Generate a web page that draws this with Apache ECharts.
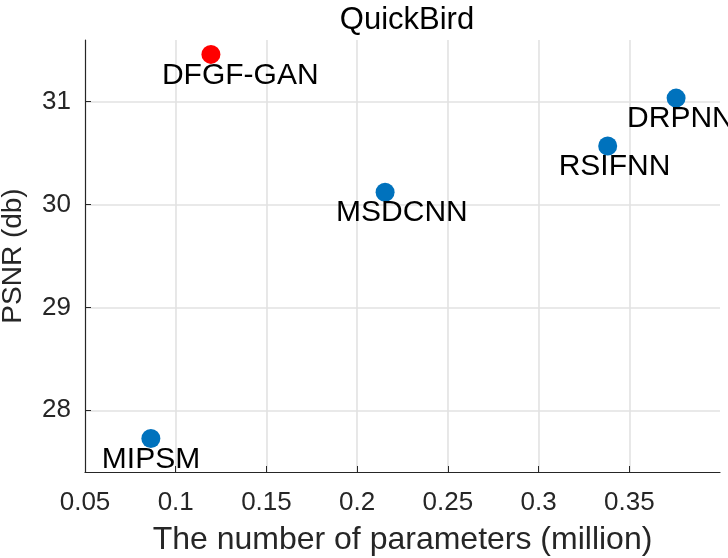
<!DOCTYPE html>
<head>
    <meta charset="utf-8"/>
    <style>
        html, body {
            height: 100%;
            margin: 0;
        }
        body {
            background-color: #fff;
        }
    </style>
    <script src="https://cdn.jsdelivr.net/npm/echarts@6/dist/echarts.min.js"></script>
</head>
<body>
<div id="main" style="height: 558px; width: 728px;"></div>
<script type="text/javascript">
 // 各方法：参数量(百万) 与 PSNR
 var methods = ['MIPSM', 'DFGF-GAN', 'MSDCNN', 'RSIFNN', 'DRPNN'];
 var params = [0.0863, 0.1194, 0.2154, 0.3381, 0.3758];
 var psnr = [27.725, 31.46, 30.12, 30.57, 31.035];
 var proposed = 'DFGF-GAN';
 var xTicks = [0.05, 0.1, 0.15, 0.2, 0.25, 0.3, 0.35];
 var yTicks = [28, 29, 30, 31];

 var axisColor = '#262626';
 var gridColor = '#e2e2e2';

 var points = methods.map(function (m, i) {
     return {
         name: m,
         value: [params[i], psnr[i]],
         itemStyle: {color: m === proposed ? '#ff0000' : '#0072bd', opacity: 1}
     };
 });

 var options = {
     animation: false,
     title: {
         text: 'QuickBird',
         left: 402,
         top: 0,
         textAlign: 'center',
         textStyle: {
             color: '#000',
             fontFamily: 'Liberation Sans',
             fontWeight: 'normal',
             fontSize: 31
         }
     },
     grid: {
         left: 85,
         right: 8,
         top: 40,
         bottom: 86,
         containLabel: false,
         outerBoundsMode: 'none'
     },
     xAxis: {
         type: 'value',
         min: xTicks[0],
         max: 0.4,
         interval: 0.05,
         name: 'The number of parameters (million)',
         nameLocation: 'middle',
         nameGap: 52,
         nameTextStyle: {
             color: '#262626',
             fontFamily: 'Liberation Sans',
             fontSize: 32
         },
         axisLine: {lineStyle: {color: axisColor, width: 1.2}},
         axisTick: {inside: true, length: 6, lineStyle: {color: axisColor}},
         axisLabel: {
             showMaxLabel: false,
             margin: 18,
             color: '#262626',
             fontFamily: 'Liberation Sans',
             fontSize: 26,
             formatter: function (v) { return xTicks.indexOf(+v.toFixed(2)) >= 0 ? String(+v.toFixed(2)) : ''; }
         },
         splitLine: {
             show: true,
             showMinLine: false,
             showMaxLine: false,
             lineStyle: {color: gridColor, width: 1.6}
         }
     },
     yAxis: {
         type: 'value',
         min: 27.4,
         max: 31.6,
         splitNumber: 4,
         name: 'PSNR (db)',
         nameLocation: 'middle',
         nameGap: 58,
         nameTextStyle: {
             color: '#262626',
             fontFamily: 'Liberation Sans',
             fontSize: 28
         },
         axisLine: {show: true, lineStyle: {color: axisColor, width: 1.2}},
         axisTick: {show: true, inside: true, length: 6, lineStyle: {color: axisColor}},
         axisLabel: {
             showMinLabel: false,
             showMaxLabel: false,
             margin: 14,
             color: '#262626',
             fontFamily: 'Liberation Sans',
             fontSize: 26,
             formatter: function (v) { return yTicks.indexOf(Math.round(v * 10) / 10) >= 0 ? String(v) : ''; }
         },
         splitLine: {
             show: true,
             showMinLine: false,
             showMaxLine: false,
             lineStyle: {color: gridColor, width: 1.6}
         }
     },
     series: [{
         type: 'scatter',
         symbol: 'circle',
         symbolSize: 19,
         data: points,
         label: {
             show: true,
             position: 'inside',
             align: 'left',
             verticalAlign: 'middle',
             offset: [-49, 21],
             formatter: '{b}',
             color: '#000',
             opacity: 1,
             fontFamily: 'Liberation Sans',
             fontSize: 30
         }
     }]
 };

 var myChart = echarts.init(document.getElementById('main'));
 myChart.setOption(options);
</script>
</body>
